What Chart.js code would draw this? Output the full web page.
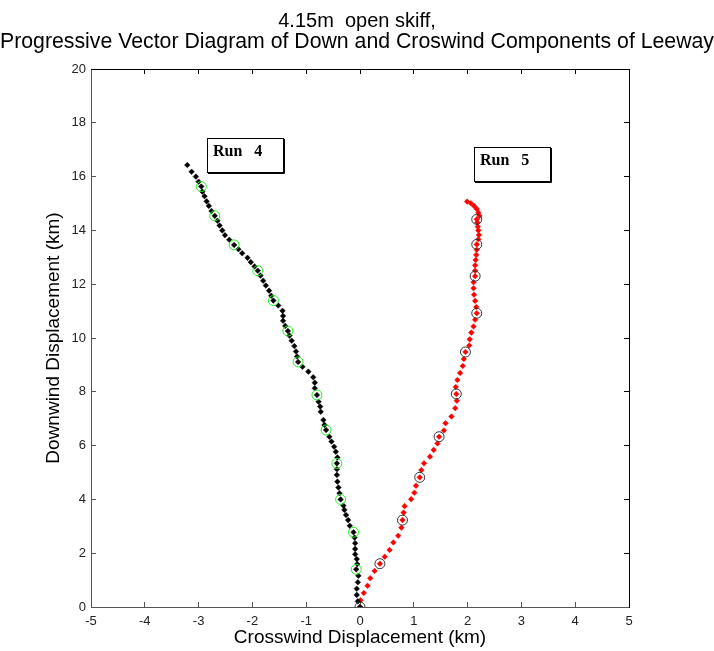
<!DOCTYPE html>
<html>
<head>
<meta charset="utf-8">
<title>Leeway PVD</title>
<script src="https://cdn.jsdelivr.net/npm/chart.js@4/dist/chart.umd.min.js"></script>
<style>
  html, body { margin: 0; padding: 0; background: #fff; }
  #wrap { width: 714px; height: 651px; }
</style>
</head>
<body>
<div id="wrap"><canvas id="pvd" width="714" height="651"></canvas></div>
<script>
/* ---------- DATA (km) ---------- */
const titleLine = "4.15m  open skiff,";
const subtitleLine = "Progressive Vector Diagram of Down and Croswind Components of Leeway";
const xTicks = [-5, -4, -3, -2, -1, 0, 1, 2, 3, 4, 5];
const yTicks = [0, 2, 4, 6, 8, 10, 12, 14, 16, 18, 20];

// Run 4 track (black)
const run4X = [0, -0.04, -0.06, -0.06, -0.04, -0.03, -0.07, -0.05, -0.06, -0.09,
  -0.09, -0.09, -0.10, -0.12, -0.19, -0.22, -0.26, -0.29, -0.31, -0.36,
  -0.38, -0.40, -0.42, -0.43, -0.43, -0.43, -0.42, -0.45, -0.48, -0.53,
  -0.57, -0.63, -0.66, -0.68, -0.73, -0.74, -0.77, -0.80, -0.84, -0.84,
  -0.87, -0.96, -1.07, -1.15, -1.17, -1.19, -1.22, -1.27, -1.31, -1.34,
  -1.39, -1.43, -1.43, -1.44, -1.52, -1.61, -1.65, -1.69, -1.75, -1.80,
  -1.85, -1.90, -1.96, -2.03, -2.09, -2.19, -2.26, -2.34, -2.43, -2.51,
  -2.56, -2.61, -2.65, -2.70, -2.76, -2.81, -2.85, -2.89, -2.93, -2.95,
  -3.00, -3.05, -3.13, -3.21];
const run4Y = [0, 0.21, 0.45, 0.68, 0.92, 1.16, 1.40, 1.60, 1.78, 1.96,
  2.16, 2.37, 2.58, 2.78, 3.02, 3.23, 3.42, 3.61, 3.77, 4.00,
  4.23, 4.44, 4.66, 4.91, 5.12, 5.34, 5.56, 5.77, 5.96, 6.15,
  6.33, 6.58, 6.77, 6.95, 7.26, 7.45, 7.63, 7.88, 8.13, 8.34,
  8.54, 8.75, 8.93, 9.11, 9.31, 9.50, 9.70, 9.90, 10.09, 10.26,
  10.45, 10.64, 10.82, 11.01, 11.21, 11.39, 11.57, 11.76, 11.95, 12.13,
  12.32, 12.50, 12.66, 12.82, 12.98, 13.15, 13.30, 13.46, 13.65, 13.82,
  14.00, 14.18, 14.36, 14.54, 14.72, 14.91, 15.08, 15.27, 15.44, 15.63,
  15.81, 16.00, 16.18, 16.43];
// Run 4 hourly marks (green circles)
const run4MarkX = [-0.07, -0.12, -0.36, -0.43, -0.63, -0.80, -1.15, -1.34, -1.61, -1.90, -2.34, -2.70, -2.95];
const run4MarkY = [1.40, 2.78, 4.00, 5.34, 6.58, 7.88, 9.11, 10.26, 11.39, 12.50, 13.46, 14.54, 15.63];

// Run 5 track (red)
const run5X = [0, 0.01, 0.07, 0.14, 0.19, 0.27, 0.37, 0.46, 0.55, 0.62,
  0.71, 0.77, 0.79, 0.81, 0.83, 0.95, 1.01, 1.04, 1.11, 1.14,
  1.19, 1.30, 1.37, 1.44, 1.47, 1.56, 1.59, 1.70, 1.77, 1.80,
  1.79, 1.78, 1.81, 1.86, 1.91, 1.93, 1.96, 2.03, 2.04, 2.07,
  2.11, 2.14, 2.17, 2.16, 2.14, 2.12, 2.11, 2.11, 2.14, 2.14,
  2.14, 2.15, 2.16, 2.17, 2.17, 2.20, 2.21, 2.20, 2.19, 2.18,
  2.17, 2.22, 2.20, 2.17, 2.12, 2.06, 1.99];
const run5Y = [0, 0.25, 0.52, 0.79, 1.07, 1.34, 1.61, 1.87, 2.12, 2.40,
  2.65, 2.95, 3.23, 3.51, 3.75, 4.01, 4.25, 4.51, 4.82, 5.09,
  5.34, 5.59, 5.84, 6.08, 6.33, 6.56, 6.83, 7.08, 7.39, 7.67,
  7.92, 8.18, 8.44, 8.70, 8.96, 9.22, 9.48, 9.72, 9.95, 10.20,
  10.43, 10.68, 10.92, 11.15, 11.38, 11.61, 11.85, 12.07, 12.30, 12.50,
  12.70, 12.90, 13.09, 13.28, 13.48, 13.67, 13.83, 14.00, 14.14, 14.29,
  14.41, 14.54, 14.66, 14.80, 14.91, 15.01, 15.07];
// Run 5 hourly marks (black circles)
const run5MarkX = [0, 0.37, 0.79, 1.11, 1.47, 1.79, 1.96, 2.17, 2.14, 2.17, 2.17];
const run5MarkY = [0, 1.61, 3.23, 4.82, 6.33, 7.92, 9.48, 10.92, 12.30, 13.48, 14.41];

const toPoints = (xs, ys) => xs.map((x, i) => ({ x: x, y: ys[i] }));

/* ---------- RUN LABEL BOXES ---------- */
const runLabels = [
  { text: "Run   4", x: -2.85, y: 17.42 },
  { text: "Run   5", x: 2.12, y: 17.09 }
];

const labelBoxes = {
  id: "labelBoxes",
  afterDatasetsDraw(chart) {
    const ctx = chart.ctx;
    const xs = chart.scales.x, ys = chart.scales.y;
    ctx.save();
    runLabels.forEach(l => {
      const left = Math.round(xs.getPixelForValue(l.x));
      const top = Math.round(ys.getPixelForValue(l.y));
      const w = 76, h = 34;
      ctx.fillStyle = "#fff";
      ctx.fillRect(left, top, w, h);
      ctx.strokeStyle = "#000";
      ctx.lineWidth = 1;
      ctx.strokeRect(left + 0.5, top + 0.5, w, h);
      // heavier right/bottom edge
      ctx.beginPath();
      ctx.moveTo(left + w + 1.5, top + 1);
      ctx.lineTo(left + w + 1.5, top + h + 1.5);
      ctx.lineTo(left + 1, top + h + 1.5);
      ctx.stroke();
      ctx.fillStyle = "#000";
      ctx.font = "bold 16px 'Liberation Serif', 'Times New Roman', serif";
      ctx.textAlign = "left";
      ctx.textBaseline = "middle";
      ctx.fillText(l.text, left + 6, top + 14);
    });
    ctx.restore();
  }
};

/* ---------- CHART ---------- */
const sans = "'Liberation Sans', Arial, Helvetica, sans-serif";

const hiddenAxis = (pos, min, max, step, fitSize) => ({
  type: "linear",
  position: pos,
  min: min, max: max,
  ticks: { display: false, stepSize: step },
  grid: { drawOnChartArea: false, tickLength: -5, color: "#000" },
  border: { color: "#000" },
  afterFit(s) {
    if (s.isHorizontal()) s.height = fitSize; else s.width = fitSize;
  }
});

new Chart(document.getElementById("pvd"), {
  type: "scatter",
  data: {
    datasets: [
      {
        label: "Run 4 hourly",
        data: toPoints(run4MarkX, run4MarkY),
        pointStyle: "circle",
        pointRadius: 5,
        backgroundColor: "rgba(0,0,0,0)",
        borderColor: "#22ee22",
        borderWidth: 1
      },
      {
        label: "Run 5 hourly",
        data: toPoints(run5MarkX, run5MarkY),
        pointStyle: "circle",
        pointRadius: 5,
        backgroundColor: "rgba(0,0,0,0)",
        borderColor: "#333",
        borderWidth: 1
      },
      {
        label: "Run 4",
        data: toPoints(run4X, run4Y),
        pointStyle: "rectRot",
        pointRadius: 2.8,
        backgroundColor: "#000",
        borderColor: "#000",
        borderWidth: 0.5
      },
      {
        label: "Run 5",
        data: toPoints(run5X, run5Y),
        pointStyle: "rectRot",
        pointRadius: 2.8,
        backgroundColor: "#ff0000",
        borderColor: "#ff0000",
        borderWidth: 0.5
      }
    ]
  },
  options: {
    responsive: false,
    animation: false,
    events: [],
    layout: { padding: 0 },
    plugins: {
      legend: { display: false },
      tooltip: { enabled: false },
      title: {
        display: true,
        text: titleLine,
        color: "#000",
        font: { family: sans, size: 20, weight: "normal", lineHeight: 1.0 },
        padding: { top: 11, bottom: 0 }
      },
      subtitle: {
        display: true,
        text: subtitleLine,
        color: "#000",
        font: { family: sans, size: 22, weight: "normal", lineHeight: 1.0 },
        padding: { top: 0, bottom: 16 }
      }
    },
    scales: {
      x: {
        type: "linear",
        position: "bottom",
        min: -5, max: 5,
        afterBuildTicks(s) { s.ticks = xTicks.map(v => ({ value: v })); },
        ticks: {
          autoSkip: false, maxRotation: 0, padding: 12,
          color: "#222",
          font: { family: sans, size: 13 }
        },
        grid: { drawOnChartArea: false, tickLength: -5, color: "#555" },
        border: { color: "#555" },
        title: {
          display: true,
          text: "Crosswind Displacement (km)",
          color: "#000",
          font: { family: sans, size: 19, lineHeight: 1.2 },
          padding: { top: 0, bottom: 2 }
        },
        afterFit(s) { s.height = 44; }
      },
      y: {
        type: "linear",
        position: "left",
        min: 0, max: 20,
        afterBuildTicks(s) { s.ticks = yTicks.map(v => ({ value: v })); },
        ticks: {
          autoSkip: false, padding: 10,
          color: "#222",
          font: { family: sans, size: 13 }
        },
        grid: { drawOnChartArea: false, tickLength: -5, color: "#555" },
        border: { color: "#555" },
        title: {
          display: true,
          text: "Downwind Displacement (km)",
          color: "#000",
          font: { family: sans, size: 19, lineHeight: 1.2 },
          padding: { top: 42, bottom: 0 }
        },
        afterFit(s) { s.width = 91; }
      },
      xTop: hiddenAxis("top", -5, 5, 1, 0),
      yRight: hiddenAxis("right", 0, 20, 2, 85)
    }
  },
  plugins: [labelBoxes]
});
</script>
</body>
</html>
